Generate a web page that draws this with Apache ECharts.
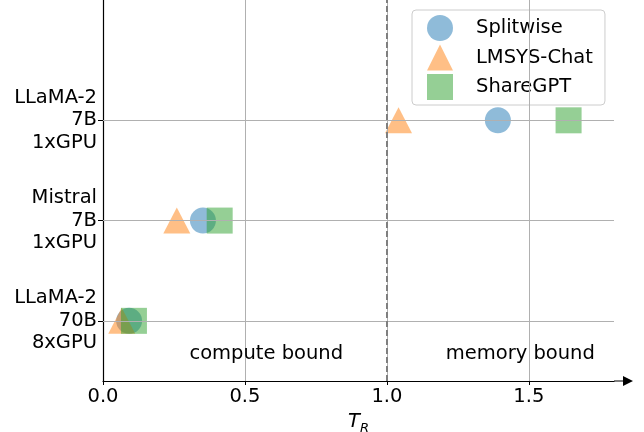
<!DOCTYPE html>
<html><head><meta charset="utf-8">
<script src="https://cdn.jsdelivr.net/npm/echarts@6/dist/echarts.min.js"></script>
<style>html,body{margin:0;padding:0;background:#fff}#c{width:644px;height:432px}</style>
</head><body><div id="c"></div>
<script>
// ---- data ----
const modelLabels = ['LLaMA-2\n70B\n8xGPU', 'Mistral\n7B\n1xGPU', 'LLaMA-2\n7B\n1xGPU'];
const seriesNames = ['Splitwise', 'LMSYS-Chat', 'ShareGPT'];
const splitwiseTR = [0.092, 0.352, 1.391];
const lmsysTR = [0.066, 0.26, 1.041];
const sharegptTR = [0.109, 0.411, 1.64];
const xTicks = [0, 0.5, 1.0, 1.5];
const yTicks = [0, 1, 2];
const boundaryTR = 1.0;
const annotations = [['compute bound', 0.575, -0.33], ['memory bound', 1.47, -0.33]];

const FONT = 'DejaVu Sans';
const FS = 19.5;
const colors = ['#1f77b4', '#ff7f0e', '#2ca02c'];
const symbols = ['circle', 'triangle', 'rect'];
const vals = [splitwiseTR, lmsysTR, sharegptTR];

const chart = echarts.init(document.getElementById('c'), null, {renderer: 'canvas'});

const gridStyle = {color: '#b0b0b0', width: 1, type: 'solid'};
const gridLines = [];
xTicks.filter(v => v > 0).forEach(v => gridLines.push({xAxis: v, lineStyle: gridStyle}));
yTicks.forEach(v => gridLines.push({yAxis: v, lineStyle: gridStyle}));
gridLines.push({xAxis: boundaryTR, lineStyle: {color: '#7f7f7f', width: 2, type: [6, 3]}});

const series = [{
  type: 'scatter', name: '_grid', data: [], z: 0, silent: true,
  markLine: {silent: true, symbol: 'none', label: {show: false}, animation: false, data: gridLines}
}];
seriesNames.forEach((n, i) => {
  series.push({
    type: 'scatter', name: n, symbol: symbols[i],
    symbolSize: i === 1 ? [27, 26] : 26,
    itemStyle: {color: colors[i], opacity: 0.5},
    z: 2 + i,
    data: vals[i].map((v, j) => [v, yTicks[j]])
  });
});
series.push({
  type: 'scatter', name: '_ann', symbol: 'circle', symbolSize: 1, silent: true, z: 6,
  itemStyle: {color: 'rgba(0,0,0,0)', opacity: 1},
  data: annotations.map(a => ({value: [a[1], a[2]], name: a[0]})),
  label: {show: true, position: 'inside', formatter: p => p.name, color: '#000', opacity: 1,
    textBorderWidth: 0, fontSize: FS, fontFamily: FONT}
});

// arrow head with a short shaft (tip at top of path, tail at bottom)
const arrowPath = 'path://M5,0 L10,10 L5.6,10 L5.6,19 L4.4,19 L4.4,10 L0,10 Z';

chart.setOption({
  animation: false,
  grid: {left: 103, right: 30, top: 0, bottom: 51, containLabel: false, outerBoundsMode: 'none'},
  legend: {
    data: seriesNames, orient: 'vertical', left: 412, top: 10,
    itemWidth: 26, itemHeight: 26, itemGap: 3.5,
    padding: [5, 12, 5, 15],
    backgroundColor: 'rgba(255,255,255,0.8)', borderColor: '#cccccc', borderWidth: 1, borderRadius: 4,
    textStyle: {fontSize: FS, fontFamily: FONT, color: '#000', padding: [0, 0, 0, 18]}
  },
  xAxis: {
    type: 'value', min: 0, max: 1.8,
    name: '{t|T}{s|R}', nameLocation: 'middle', nameGap: 13,
    nameTextStyle: {rich: {
      t: {fontSize: FS, fontStyle: 'italic', fontFamily: FONT, color: '#000'},
      s: {fontSize: 13, fontStyle: 'italic', fontFamily: FONT, color: '#000', padding: [14, 0, 0, 0]}
    }},
    axisLine: {show: true, onZero: false, lineStyle: {color: '#000', width: 1.2},
      symbol: ['none', arrowPath], symbolSize: [10, 19], symbolOffset: [0, 9.5]},
    axisTick: {show: true, inside: false, length: 4, lineStyle: {color: '#000'}, customValues: xTicks},
    axisLabel: {fontSize: FS, fontFamily: FONT, color: '#000', margin: 6, customValues: xTicks, formatter: v => v.toFixed(1)},
    splitLine: {show: false}
  },
  yAxis: {
    type: 'value', min: -0.6, max: 3.2,
    axisLine: {show: true, onZero: false, lineStyle: {color: '#000', width: 1.2}},
    axisTick: {show: true, inside: false, length: 5, lineStyle: {color: '#000'}, customValues: yTicks},
    axisLabel: {fontSize: FS, fontFamily: FONT, color: '#000', margin: 6, lineHeight: 22.5, align: 'right',
      customValues: yTicks, formatter: v => modelLabels[Math.round(v)]},
    splitLine: {show: false}
  },
  series: series
});
</script></body></html>
